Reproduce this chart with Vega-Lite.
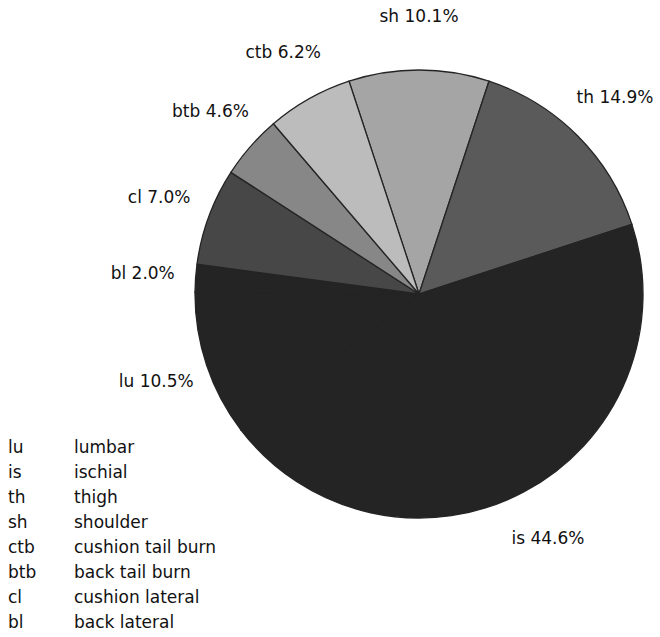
{
  "$schema": "https://vega.github.io/schema/vega-lite/v6.json",
  "width": 450,
  "height": 448,
  "autosize": {"type": "none"},
  "padding": {"left": 194, "top": 70, "right": 16, "bottom": 119},
  "background": "white",
  "config": {"view": {"stroke": null}},
  "data": {
    "values": [
      {"code": "sh", "name": "shoulder", "pct": 10.1, "seq": 1, "label": "sh 10.1%"},
      {"code": "th", "name": "thigh", "pct": 14.9, "seq": 2, "label": "th 14.9%"},
      {"code": "is", "name": "ischial", "pct": 44.6, "seq": 3, "label": "is 44.6%"},
      {"code": "lu", "name": "lumbar", "pct": 10.5, "seq": 4, "label": "lu 10.5%"},
      {"code": "bl", "name": "back lateral", "pct": 2.0, "seq": 5, "label": "bl 2.0%"},
      {"code": "cl", "name": "cushion lateral", "pct": 7.0, "seq": 6, "label": "cl 7.0%"},
      {"code": "btb", "name": "back tail burn", "pct": 4.6, "seq": 7, "label": "btb 4.6%"},
      {"code": "ctb", "name": "cushion tail burn", "pct": 6.2, "seq": 8, "label": "ctb 6.2%"}
    ]
  },
  "layer": [
    {
      "mark": {"type": "arc", "stroke": "#242424", "strokeWidth": 1.3},
      "encoding": {
        "theta": {"field": "pct", "type": "quantitative", "stack": true,
                  "scale": {"domain": [0, 99.9], "range": [-0.3176, 5.9656]}},
        "order": {"field": "seq", "type": "quantitative"},
        "color": {"field": "code", "type": "nominal", "legend": null,
                  "scale": {"domain": ["sh", "th", "is", "lu", "bl", "cl", "btb", "ctb"],
                            "range": ["#a5a5a5", "#5a5a5a", "#242424", "#242424", "#242424", "#474747", "#878787", "#bcbcbc"]}}
      }
    },
    {
      "mark": {"type": "text", "font": "DejaVu Sans", "fontSize": 17, "color": "#111111", "align": "center", "baseline": "middle"},
      "encoding": {
        "theta": {"field": "pct", "type": "quantitative", "stack": true},
        "order": {"field": "seq", "type": "quantitative"},
        "radius": {"value": 277},
        "text": {"field": "label", "type": "nominal"}
      }
    },
    {
      "transform": [{"fold": ["code", "name"], "as": ["kind", "entry"]}],
      "mark": {"type": "point", "opacity": 0},
      "encoding": {
        "shape": {
          "field": "entry", "type": "nominal",
          "scale": {"domain": ["lu", "is", "th", "sh", "ctb", "btb", "cl", "bl", "lumbar", "ischial", "thigh", "shoulder", "cushion tail burn", "back tail burn", "cushion lateral", "back lateral"]},
          "legend": {
            "orient": "none", "legendX": -203, "legendY": 369,
            "columns": 2, "title": null, "padding": 0,
            "symbolOpacity": 0, "symbolSize": 0, "symbolStrokeWidth": 0,
            "labelOffset": 0, "labelFont": "DejaVu Sans", "labelFontSize": 17,
            "labelColor": "#111111", "labelLimit": 400,
            "rowPadding": 7, "columnPadding": 20, "gridAlign": "each"
          }
        }
      }
    }
  ]
}
